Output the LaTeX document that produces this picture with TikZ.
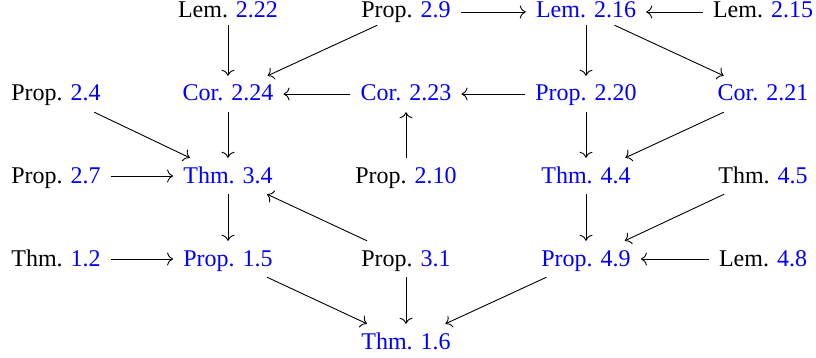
\documentclass[tikz,border=0pt]{standalone}
\usepackage{fontspec}
\setmainfont{Liberation Serif}
\usetikzlibrary{arrows.meta}
\definecolor{refblue}{RGB}{0,0,255}
\tikzset{
  res/.style={anchor=base, font=\fontsize{24}{28}\selectfont, text height=20pt, text depth=6pt, inner xsep=10pt, inner ysep=5pt},
  toprow/.style={text height=16pt, text depth=4pt, inner ysep=3pt},
  bres/.style={res, text=refblue},
  arr/.style={line width=0.9pt, -{Computer Modern Rightarrow[length=6pt,width=13pt,line width=0.9pt]}}
}
\newcommand{\bl}[1]{\textcolor{refblue}{#1}}
\begin{document}
\begin{tikzpicture}[x=1pt,y=-1pt]
\useasboundingbox (0,0) rectangle (816,358);
% row 1
\node[res,toprow]  (l222) at (228,18) {Lem. \bl{2.22}};
\node[res,toprow]  (p29)  at (406,18) {Prop. \bl{2.9}};
\node[bres,toprow] (l216) at (586,18) {Lem. 2.16};
\node[res,toprow]  (l215) at (763,18) {Lem. \bl{2.15}};
% row 2
\node[res]  (p24)  at (56,101) {Prop. \bl{2.4}};
\node[bres] (c224) at (228,101) {Cor. 2.24};
\node[bres] (c223) at (406,101) {Cor. 2.23};
\node[bres] (p220) at (586,101) {Prop. 2.20};
\node[bres] (c221) at (763,101) {Cor. 2.21};
% row 3
\node[res]  (p27)  at (56,183) {Prop. \bl{2.7}};
\node[bres] (t34)  at (228,183) {Thm. 3.4};
\node[res]  (p210) at (406,183) {Prop. \bl{2.10}};
\node[bres] (t44)  at (586,183) {Thm. 4.4};
\node[res]  (t45)  at (763,183) {Thm. \bl{4.5}};
% row 4
\node[res]  (t12)  at (56,266) {Thm. \bl{1.2}};
\node[bres] (p15)  at (228,266) {Prop. 1.5};
\node[res]  (p31)  at (406,266) {Prop. \bl{3.1}};
\node[bres] (p49)  at (586,266) {Prop. 4.9};
\node[res]  (l48)  at (763,266) {Lem. \bl{4.8}};
% row 5
\node[bres] (t16)  at (406,349) {Thm. 1.6};
% arrows
\draw[arr] (l222) -- (c224);
\draw[arr] (p29) -- (c224);
\draw[arr] (p29) -- (l216);
\draw[arr] (l215) -- (l216);
\draw[arr] (l216) -- (p220);
\draw[arr] (l216) -- (c221);
\draw[arr] (c223) -- (c224);
\draw[arr] (p220) -- (c223);
\draw[arr] (p24) -- (t34);
\draw[arr] (c224) -- (t34);
\draw[arr] (p210) -- (c223);
\draw[arr] (p220) -- (t44);
\draw[arr] (c221) -- (t44);
\draw[arr] (p27) -- (t34);
\draw[arr] (t34) -- (p15);
\draw[arr] (p31) -- (t34);
\draw[arr] (t44) -- (p49);
\draw[arr] (t45) -- (p49);
\draw[arr] (t12) -- (p15);
\draw[arr] (l48) -- (p49);
\draw[arr] (p15) -- (t16);
\draw[arr] (p31) -- (t16);
\draw[arr] (p49) -- (t16);
\end{tikzpicture}
\end{document}
